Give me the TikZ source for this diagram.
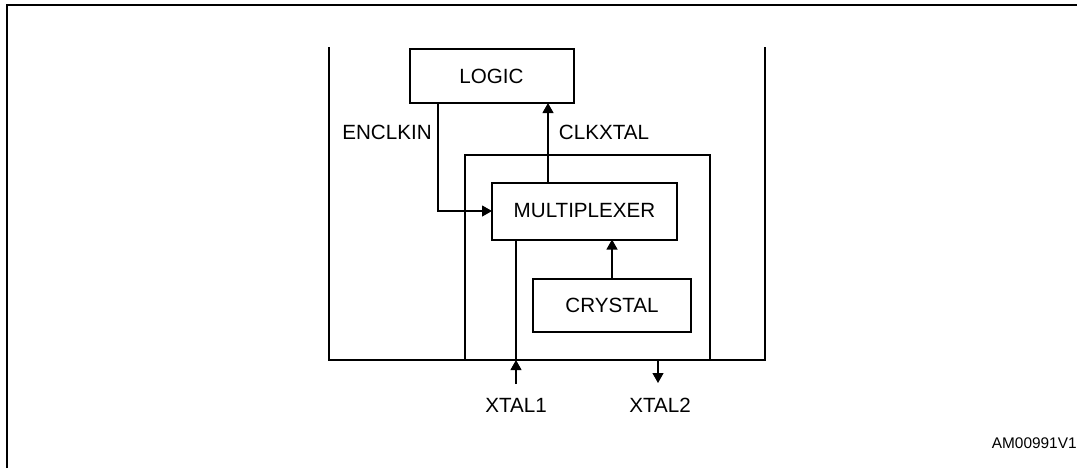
\documentclass[tikz,border=0pt]{standalone}
\usepackage{fontspec}
\setmainfont{Liberation Sans}
\usetikzlibrary{arrows.meta}
\tikzset{
  blk/.style={draw,line width=1pt,inner sep=0pt,outer sep=0pt,font=\fontsize{10.3}{12}\selectfont},
  lbl/.style={inner sep=0pt,font=\fontsize{10.3}{12}\selectfont},
  sig/.style={line width=0.55pt},
  arr/.style={sig,-{Triangle[length=5pt,width=5.5pt]}},
  wall/.style={line width=1pt},
}

\begin{document}
\begin{tikzpicture}[x=0.5pt,y=-0.5pt]
  \useasboundingbox (0,0) rectangle (1082,468);
  \draw[wall] (7,468) -- (7,5) -- (1077,5);
  % device outline
  \draw[wall] (329,47) -- (329,360) -- (765,360) -- (765,47);
  \node[blk,minimum width=122.5pt,minimum height=102.5pt] (osc) at (587.5,257.5) {};
  % blocks
  \node[blk,minimum width=82pt,minimum height=27pt] (logic) at (491.5,76) {LOGIC};
  \node[blk,minimum width=92.5pt,minimum height=28.5pt] (mux) at (584.5,211) {MULTIPLEXER};
  \node[blk,minimum width=79pt,minimum height=26.5pt] (xtal) at (612,305.5) {CRYSTAL};
  % signals
  \coordinate (en) at ([xshift=14.25pt]logic.south west);
  \coordinate (clk) at ([xshift=28pt]mux.north west);
  \draw[arr] (en) |- (mux.west);
  \draw[arr] (clk) -- (clk |- logic.south);
  \draw[arr] (xtal.north) -- (xtal.north |- mux.south);
  % pins
  \coordinate (p1) at (516,360); \coordinate (p1e) at (516,384);
  \coordinate (p2) at (658,360); \coordinate (p2e) at (658,383);
  \draw[arr] (p1e) -- (p1);
  \draw[sig] (p1) -- (p1 |- mux.south);
  \draw[arr] (p2) -- (p2e);
  % labels
  \node[lbl] (enclkin) at (387,132) {ENCLKIN};
  \node[lbl] (clkxtal) at (604,132) {CLKXTAL};
  \node[lbl] (xtal1) at (516,405) {XTAL1};
  \node[lbl] (xtal2) at (660,405) {XTAL2};
  \node[lbl,font=\fontsize{7.7}{9}\selectfont,anchor=east] (code) at (1077,443) {AM00991V1};
\end{tikzpicture}
\end{document}
